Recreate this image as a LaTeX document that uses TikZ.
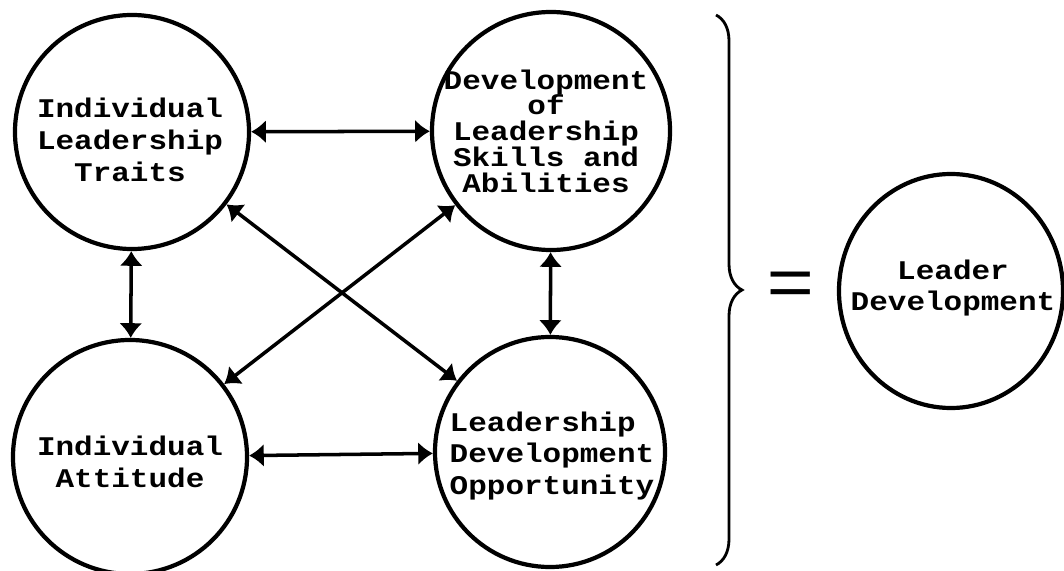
\documentclass[tikz,border=0pt]{standalone}
\usepackage{fontspec}
\newfontfamily\typefont[FakeStretch=1.15]{Liberation Mono}
\usetikzlibrary{arrows.meta,decorations.pathreplacing,shapes.geometric}

\begin{document}
\begin{tikzpicture}[x=.03cm,y=-.03cm,
    blob/.style={draw,circle,line width=3.6pt,inner sep=0pt,minimum size=#1},
    txt/.style={align=center,inner sep=0pt,font=\typefont\bfseries\fontsize{23}{#1}\selectfont},
    txt/.default=27.2pt,
    twoway/.style={{Latex[length=.44cm,width=.7cm]}-{Latex[length=.44cm,width=.7cm]},line width=3pt}]
  \useasboundingbox (0,0) rectangle (1064,571);
  % the four circles and the result
  \node[blob=7.02cm] (traits) at (132,132) {};
  \node[blob=7.14cm] (skills) at (551,131) {};
  \node[blob=7.02cm] (attitude) at (130,457) {};
  \node[blob=6.9cm] (opport) at (550,452) {};
  \node[draw,ellipse,line width=3.6pt,inner sep=0pt,minimum width=6.72cm,minimum height=7.02cm] (leader) at (951,291) {};
  % their texts
  \node[txt] (traits-t) at (130,140) {Individual\\Leadership\\Traits};
  \node[txt=22pt] (skills-t) at (546,131) {Development\\of\\Leadership\\Skills and\\Abilities};
  \node[txt] (attitude-t) at (130,462) {Individual\\Attitude};
  \node[txt=26.5pt,align=left] (opport-t) at (552,456) {Leadership\\Development\\Opportunity};
  \node[txt] (leader-t) at (953,288) {Leader\\Development};
  % two-way links
  \draw[twoway] (traits) -- (skills);
  \draw[twoway] (traits) -- (attitude);
  \draw[twoway] (skills) -- (opport);
  \draw[twoway] (attitude) -- (opport);
  \draw[twoway] (traits) -- (opport);
  \draw[twoway] (skills) -- (attitude);
  % brace and equals sign
  \draw[line width=2.4pt,decorate,decoration={brace,amplitude=.78cm}] (716,15) -- (716,565);
  \node[font=\typefont\fontsize{60}{60}\selectfont,inner sep=0pt] (equals) at (791,289) {=};
\end{tikzpicture}
\end{document}
